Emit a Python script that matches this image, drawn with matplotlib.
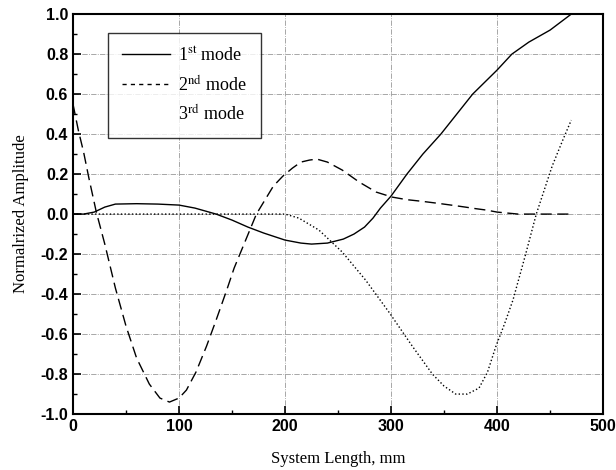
import matplotlib
matplotlib.use("Agg")
import matplotlib.pyplot as plt
from matplotlib.ticker import MultipleLocator
from matplotlib.lines import Line2D

# Mode shapes (x in mm)
mode1_x = [0, 10, 20, 30, 40, 60, 80, 100, 115, 135, 150, 165, 180, 200, 215,
           225, 240, 255, 265, 275, 283, 290, 300, 315, 330, 347, 365, 377, 400,
           414, 430, 450, 470]
mode1_y = [0, 0, 0.01, 0.035, 0.05, 0.052, 0.05, 0.045, 0.03, 0.0, -0.03,
           -0.065, -0.095, -0.13, -0.145, -0.15, -0.145, -0.125, -0.1, -0.065,
           -0.02, 0.03, 0.09, 0.2, 0.3, 0.4, 0.52, 0.6, 0.72, 0.8, 0.86, 0.92,
           1.0]

mode2_x = [0, 5, 10, 15, 22, 30, 40, 50, 60, 72, 82, 91, 100, 107, 116, 126,
           135, 145, 152, 159, 166, 173, 181, 189, 198, 207, 215, 223, 230, 240,
           254, 270, 286, 301, 315, 329, 344, 358, 370, 380, 390, 400, 420, 440,
           470]
mode2_y = [0.55, 0.42, 0.31, 0.18, 0.01, -0.15, -0.37, -0.56, -0.72, -0.85,
           -0.92, -0.94, -0.92, -0.88, -0.79, -0.66, -0.53, -0.38, -0.27, -0.18,
           -0.09, 0.0, 0.07, 0.14, 0.19, 0.23, 0.26, 0.27, 0.275, 0.26, 0.22,
           0.16, 0.11, 0.085, 0.072, 0.064, 0.054, 0.044, 0.035, 0.027, 0.02,
           0.01, 0.0, 0.0, 0.0]

mode3_x = [0, 50, 100, 150, 200, 213, 232, 254, 276, 298, 320, 339, 350, 361,
           372, 383, 391, 399, 407, 415, 427, 437, 452, 462, 470]
mode3_y = [0, 0, 0, 0, 0, -0.02, -0.08, -0.19, -0.33, -0.49, -0.66, -0.80,
           -0.86, -0.90, -0.90, -0.87, -0.79, -0.66, -0.55, -0.43, -0.2, 0.0,
           0.24, 0.37, 0.47]

labels = [r'1$^{\rm st}$ mode', r'2$^{\rm nd}$ mode', r'3$^{\rm rd}$ mode']

plt.rcParams['mathtext.fontset'] = 'stix'

fig = plt.figure(figsize=(6.16, 4.70), dpi=100)
ax = fig.add_axes([0.1185, 0.119, 0.8605, 0.851])

ax.plot(mode1_x, mode1_y, color='black', lw=1.0)
ax.plot(mode2_x, mode2_y, color='black', lw=1.0, dashes=(8, 4))
ax.plot(mode3_x, mode3_y, color='black', lw=1.0, linestyle=':')

ax.set_xlim(0, 500)
ax.set_ylim(-1.0, 1.0)
ax.xaxis.set_major_locator(MultipleLocator(100))
ax.xaxis.set_minor_locator(MultipleLocator(50))
ax.yaxis.set_major_locator(MultipleLocator(0.2))
ax.yaxis.set_minor_locator(MultipleLocator(0.1))
ax.tick_params(which='both', direction='in', top=False, right=False)
ax.tick_params(which='major', length=6, width=1.2)
ax.tick_params(which='minor', length=3, width=1.0)
ax.set_yticks([-1.0, -0.8, -0.6, -0.4, -0.2, 0.0, 0.2, 0.4, 0.6, 0.8, 1.0])
ax.set_yticklabels(['%.1f' % v for v in ax.get_yticks()])

for lab in ax.get_xticklabels() + ax.get_yticklabels():
    lab.set_fontfamily('Liberation Sans')
    lab.set_fontweight('bold')
    lab.set_fontsize(11.5)

for sp in ax.spines.values():
    sp.set_linewidth(1.5)

ax.grid(True, which='major', color='#999999', linestyle='-.', lw=0.6)

ax.set_xlabel('System Length, mm', family='Liberation Serif', fontsize=12,
              labelpad=12)
ax.set_ylabel('Normalrized Amplitude', family='Liberation Serif', fontsize=12,
              labelpad=8)

# legend handles as drawn in the original key (3rd entry's line is invisible)
handles = [Line2D([], [], color='black', lw=1.0),
           Line2D([], [], color='black', lw=1.0, dashes=(3, 3)),
           Line2D([], [], color='black', lw=1.0, alpha=0.0)]
leg = ax.legend(handles, labels, loc='upper left',
                bbox_to_anchor=(0.066, 0.9525), borderaxespad=0,
                prop={'family': 'Liberation Serif', 'size': 13},
                frameon=True, fancybox=False, edgecolor='black',
                handlelength=2.7, handletextpad=0.45, borderpad=0.75,
                labelspacing=0.55)
leg.get_frame().set_linewidth(1.0)

fig.savefig('out.png', dpi=100)
